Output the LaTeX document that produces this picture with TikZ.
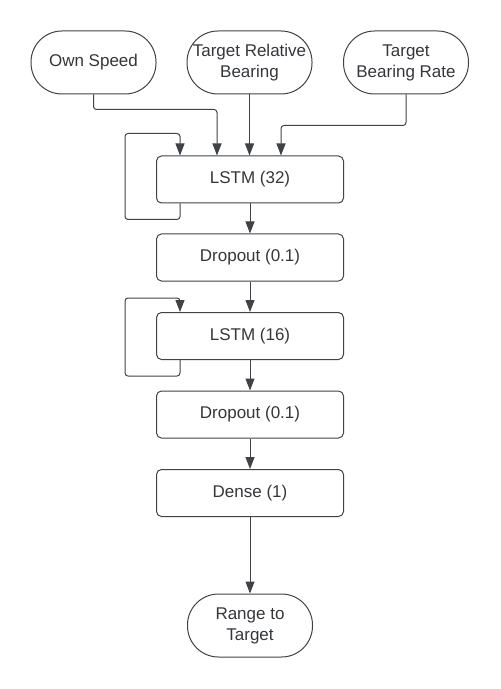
\documentclass[tikz,border=0pt]{standalone}
\usepackage{fontspec}
\setmainfont{Liberation Sans}
\usetikzlibrary{calc,positioning}
\usetikzlibrary{arrows.meta}

\definecolor{linegray}{HTML}{3F4247}
\definecolor{txtgray}{HTML}{33363A}

\begin{document}
\begin{tikzpicture}[x=0.5pt,y=-0.5pt,line width=0.5pt,
	box/.style={draw=linegray,rounded corners=2.5pt,minimum width=93.5pt,minimum height=23.5pt,inner sep=0pt,text=txtgray,font=\fontsize{8.5}{10.5}\selectfont},
	term/.style={draw=linegray,rounded corners=15.5pt,minimum width=62.5pt,minimum height=31.5pt,inner sep=0pt,align=center,text=txtgray,font=\fontsize{8.5}{10.5}\selectfont},
	arr/.style={draw=linegray,rounded corners=1.5pt,-{Triangle[length=6pt,width=4.5pt]}}]

		\useasboundingbox (0,0) rectangle (500,689);

		\node[term] (own) at (93.5,62.5) {Own Speed};
		\node[term] (rel) at (249.5,62.5) {Target Relative\\Bearing};
		\node[term] (rate) at (406,62.5) {Target\\Bearing Rate};

		\node[box] (l1) at (250,179.5) {LSTM (32)};
		\node[box] (d1) at (250,257.5) {Dropout (0.1)};
		\node[box] (l2) at (250,336) {LSTM (16)};
		\node[box] (d2) at (250,414.5) {Dropout (0.1)};
		\node[box] (dn) at (250,493) {Dense (1)};
		\node[term] (out) at (250,625.5) {Range to\\Target};

		\draw[arr] (own.south) -- ++(0,15) -| ($(l1.north)+(-33,0)$);
		\draw[arr] (rel.south) -- (rel.south |- l1.north);
		\draw[arr] (rate.south) -- ++(0,31) -| ($(l1.north)+(31,0)$);
		\draw[arr] ($(l1.south)+(-70,0)$) -- ++(0,16) -| ++(-55,-86) -| ($(l1.north)+(-70,0)$);

		\draw[arr] (l1) -- (d1);
		\draw[arr] (d1) -- (l2);
		\draw[arr] ($(l2.south)+(-70,0)$) -- ++(0,16) -| ++(-55,-78) -| ($(l2.north)+(-70,0)$);
		\draw[arr] (l2) -- (d2);
		\draw[arr] (d2) -- (dn);
		\draw[arr] (dn) -- (out);
	\end{tikzpicture}
\end{document}
